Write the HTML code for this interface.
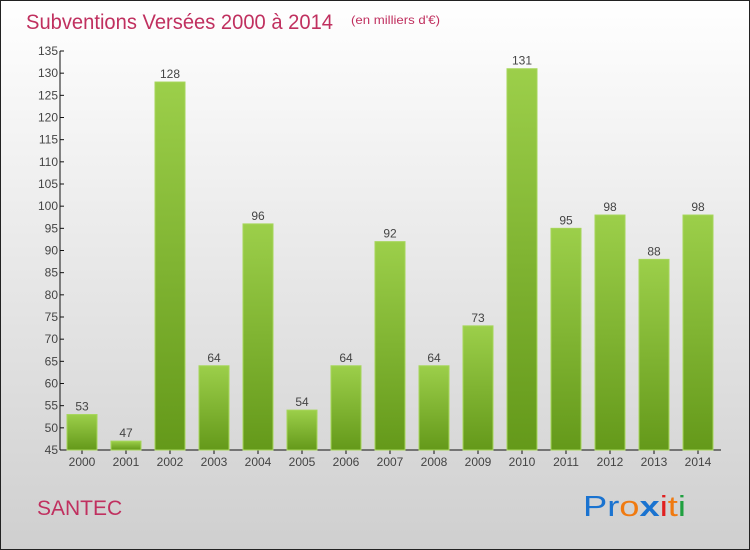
<!DOCTYPE html>
<html><head><meta charset="utf-8"><style>
body{margin:0;width:750px;height:550px;overflow:hidden}
svg{display:block}
text{font-family:"Liberation Sans",sans-serif}
</style></head><body>
<svg width="750" height="550">
<defs>
<linearGradient id="bg" x1="0" y1="0" x2="0" y2="1"><stop offset="0" stop-color="#ffffff"/><stop offset="1" stop-color="#cfcfcf"/></linearGradient>
<linearGradient id="bar" x1="0" y1="0" x2="0" y2="1"><stop offset="0" stop-color="#9ccf4a"/><stop offset="1" stop-color="#64991a"/></linearGradient>
</defs>
<rect x="0.5" y="0.5" width="749" height="549" fill="url(#bg)" stroke="#222"/>
<text x="26" y="29" font-size="21" fill="#c0305f" textLength="307" lengthAdjust="spacingAndGlyphs">Subventions Versées 2000 à 2014</text>
<text x="351" y="24" font-size="12" fill="#c0305f" textLength="89" lengthAdjust="spacingAndGlyphs">(en milliers d'€)</text>
<text x="37" y="515" font-size="21" fill="#c0305f">SANTEC</text>
<text x="583" y="516" font-size="29" textLength="103" lengthAdjust="spacingAndGlyphs"><tspan fill="#1a73d0">Pr</tspan><tspan fill="#f07a10">o</tspan><tspan fill="#1a73d0" font-weight="bold">x</tspan><tspan fill="#e02020">i</tspan><tspan fill="#f07a10">t</tspan><tspan fill="#20a040">i</tspan></text>
<g id="axes"></g>
<g id="bars"></g>
</svg>
<script>
const years=["2000","2001","2002","2003","2004","2005","2006","2007","2008","2009","2010","2011","2012","2013","2014"];
const values=[53,47,128,64,96,54,64,92,64,73,131,95,98,88,98];
const yTicks=[45,50,55,60,65,70,75,80,85,90,95,100,105,110,115,120,125,130,135];
const NS="http://www.w3.org/2000/svg";
const y0=450,y1=51,vmin=45,vmax=135;
function ys(v){return y0-(v-vmin)/(vmax-vmin)*(y0-y1);}
function xs(i){return 82+i*44;}
function mk(t,a,p,txt){const e=document.createElementNS(NS,t);for(const k in a)e.setAttribute(k,a[k]);if(txt!==undefined)e.textContent=txt;p.appendChild(e);return e;}
const ax=document.getElementById('axes'),bg=document.getElementById('bars');
let l=mk('line',{x1:60,y1:y1,x2:60,y2:y0,stroke:'#111'},ax);


l=mk('line',{x1:60,y1:y0,x2:721,y2:y0,stroke:'#111'},ax);


yTicks.forEach(v=>{
 const y=ys(v);
 mk('line',{x1:60,y1:y,x2:64,y2:y,stroke:'#111'},ax);
 const t=mk('text',{x:58,y:y+4,'font-size':12,fill:'#444','text-anchor':'end'},ax,v);
 
 
});
years.forEach((yr,i)=>{
 const x=xs(i),v=values[i],top=ys(v);
 mk('line',{x1:x,y1:y0,x2:x,y2:y0+4,stroke:'#111'},ax);
 const t=mk('text',{x:x,y:466,'font-size':12,fill:'#444','text-anchor':'middle'},ax,yr);
 
 
 const r=mk('rect',{x:x-15,y:top,width:30,height:y0-top,fill:'url(#bar)',stroke:'#a6d65a','stroke-width':1},bg);
 
 
 const lb=mk('text',{x:x,y:top-4,'font-size':12,fill:'#444','text-anchor':'middle'},bg,v);
 
 
});
</script>
</body></html>
